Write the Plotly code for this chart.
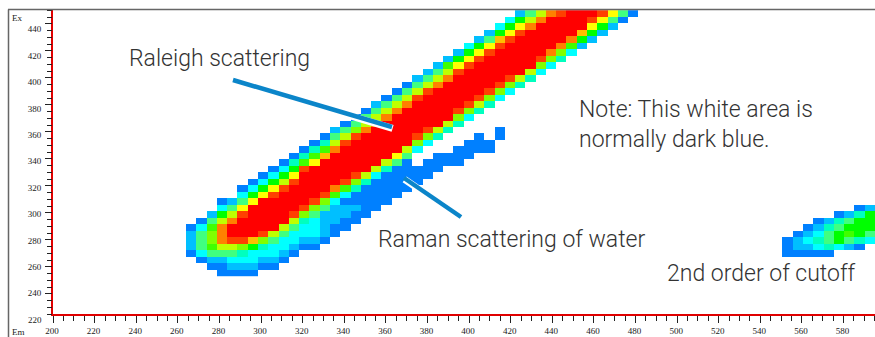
import plotly.graph_objects as go

WIDTH, HEIGHT = 875, 337
LEFT, RIGHT, TOP, BOTTOM = 53, 0, 10, 23

# Fluorescence excitation-emission map: levels 1-14 (hex digits), 0 = no data.
# Each row is (first column, levels); the row number is its position in the list.
main_band = [
    (3, "1111"),
    (2, "1122211"),
    (1, "12233322" + "1"),
    (0, "13555433321"),
    (0, "2579986433211"),
    (0, "258cddb8533221"),
    (0, "258ceeed9533321"),
    (0, "137ceeeee9533211"),
    (1, "159ceeeee9432211"),
    (2, "269deeeed85222" + "11"),
    (3, "35aeeeeed8522211"),
    (3, "125aeeeeed8311111"),
    (5, "36adeeeed7311111"),
    (5, "136adeeeec7411111"),
    (6, "1369deeeed8411111"),
    (7, "136aeeeeed9311111"),
    (8, "136deeeeee9411111"),
    (9, "147aeeeeee95101111"),
    (10, "147beeeeeea5001111"),
    (11, "147ceeeeee930001111"),
    (12, "149deeeeee83000111"),
    (13, "159deeeeed84000101"),
    (14, "258ceeeeed9400001"),
    (15, "159ceeeeee94"),
    (16, "159ceeeeee83"),
    (17, "159ceeeeed84"),
    (18, "259ceeeeed94"),
    (19, "159deeeeed83"),
    (20, "159deeeeed83"),
    (21, "159ceeeeed84"),
    (22, "259ceeeeed94"),
    (23, "259deeeeee93"),
    (24, "27adeeeeee83"),
    (25, "26adeeeeed84"),
    (26, "26adeeeeec83"),
    (27, "36adeeeeec72"),
    (28, "25bdeeeeec62"),
    (29, "26adeeeeeb62"),
    (30, "36aceeeeea62"),
    (31, "369ceeeeda51"),
    (32, "259cdeeeda51"),
]
# Second-order band at the right edge: (row, first column, levels)
second_band = [
    (3, 58, "11111"),
    (4, 58, "12234321"),
    (5, 58, "123456543"),
    (6, 59, "12356765"),
    (7, 60, "1245666"),
    (8, 61, "124566"),
    (9, 63, "1246"),
    (10, 65, "12"),
]
level_colors = ["#0080ff", "#00bfff", "#00ffff", "#00ffbf", "#40ff80", "#00ff00", "#40ff00",
                "#80ff00", "#bfff00", "#ffff00", "#ffbf00", "#ff8000", "#ff4000", "#ff0000"]
x_ticks = list(range(200, 600, 20))
y_ticks = list(range(240, 460, 20))

N_COLS = 67
grid = [[None] * N_COLS for _ in main_band]
def place(row, col, levels):
    for i, ch in enumerate(levels):
        v = int(ch, 16)
        if v and col + i < N_COLS:
            grid[row][col + i] = v
for r, (c, s) in enumerate(main_band):
    place(r, c, s)
for r, c, s in second_band:
    place(r, c, s)

n = len(level_colors)
colorscale = []
for i, col in enumerate(level_colors):
    colorscale += [[i / n, col], [(i + 1) / n, col]]

def fx(px):
    return (px - LEFT) / (WIDTH - LEFT - RIGHT)
def fy(py):
    return 1 - (py - TOP) / (HEIGHT - TOP - BOTTOM)

SERIF = "Liberation Serif"
tick_font = dict(family=SERIF, size=9, color="#222")
fig = go.Figure()
fig.add_trace(go.Heatmap(z=grid, x0=266.4, dx=4.941, y0=255.04, dy=4.924,
                         zmin=0.5, zmax=14.5, colorscale=colorscale, showscale=False,
                         hoverongaps=False))
fig.add_trace(go.Scatter(x=[None], y=[None], yaxis="y2", showlegend=False))

ink = "#0b85c9"
def callout(x0, y0, x1, y1, w):
    for dx, dy, col, wd in [(0.6, 1.4, "white", w + 2.5), (0, 0, ink, w)]:
        fig.add_shape(type="line", xref="paper", yref="paper",
                      x0=fx(x0 + dx), y0=fy(y0 + dy), x1=fx(x1 + dx), y1=fy(y1 + dy),
                      line=dict(color=col, width=wd), layer="above")
callout(233, 80, 392, 127, 4.5)
callout(404, 178, 461, 217, 4.5)

# frame of the original window
for x0, y0, x1, y1 in [(8, 9.5, 875, 9.5), (8.5, 9.5, 8.5, 337)]:
    fig.add_shape(type="line", xref="paper", yref="paper",
                  x0=fx(x0), y0=fy(y0), x1=fx(x1), y1=fy(y1),
                  line=dict(color="#666", width=1.5), layer="above")

labels = [("Raleigh scattering", 127.5, 58), ("Note: This white area is<br>normally dark blue.", 578, 124),
          ("Raman scattering of water", 377, 239), ("2nd order of cutoff", 666, 273)]
for txt, x, y in labels:
    fig.add_annotation(text=txt, xref="paper", yref="paper", x=fx(x), y=fy(y), xanchor="left",
                       yanchor="middle", align="left", showarrow=False, borderpad=0,
                       font=dict(family="Roboto", size=23, weight=300, color="#333"))
for txt, x, y, anchor in [("220", 43, 320, "right"), ("Ex", 11, 18, "left"), ("Em", 11, 331.5, "left")]:
    fig.add_annotation(text=txt, xref="paper", yref="paper", x=fx(x), y=fy(y), xanchor=anchor,
                       yanchor="middle", showarrow=False, borderpad=0, font=tick_font)

fig.update_layout(
    width=WIDTH, height=HEIGHT, autosize=False, showlegend=False,
    margin=dict(l=LEFT, r=RIGHT, t=TOP, b=BOTTOM, pad=0),
    paper_bgcolor="white", plot_bgcolor="white",
    xaxis=dict(range=[200, 595.1], tickvals=x_ticks, ticks="outside", ticklen=7, tickwidth=1,
               tickcolor="#222", showgrid=False, zeroline=False, showline=True, linecolor="#e00000",
               linewidth=2, tickfont=tick_font, ticklabelshift=-1,
               minor=dict(dtick=5, tick0=200, ticks="outside", ticklen=5, tickcolor="#222", showgrid=False)),
    yaxis=dict(range=[224.32, 454.62], tickvals=y_ticks, ticks="outside", ticklen=8,
               tickcolor="rgba(0,0,0,0)", showgrid=False, zeroline=False, showline=True,
               linecolor="#e00000", linewidth=2, tickfont=tick_font),
    yaxis2=dict(range=[225, 450.2], overlaying="y", side="left", anchor="x", tickvals=y_ticks,
                ticks="outside", ticklen=7.5, tickcolor="#222", showticklabels=False,
                showgrid=False, zeroline=False, showline=False,
                minor=dict(dtick=5, tick0=225, ticks="outside", ticklen=5, tickcolor="#222", showgrid=False)),
)
fig.write_html("out.html", post_script="document.body.style.margin='0';",
               config=dict(displayModeBar=False))
